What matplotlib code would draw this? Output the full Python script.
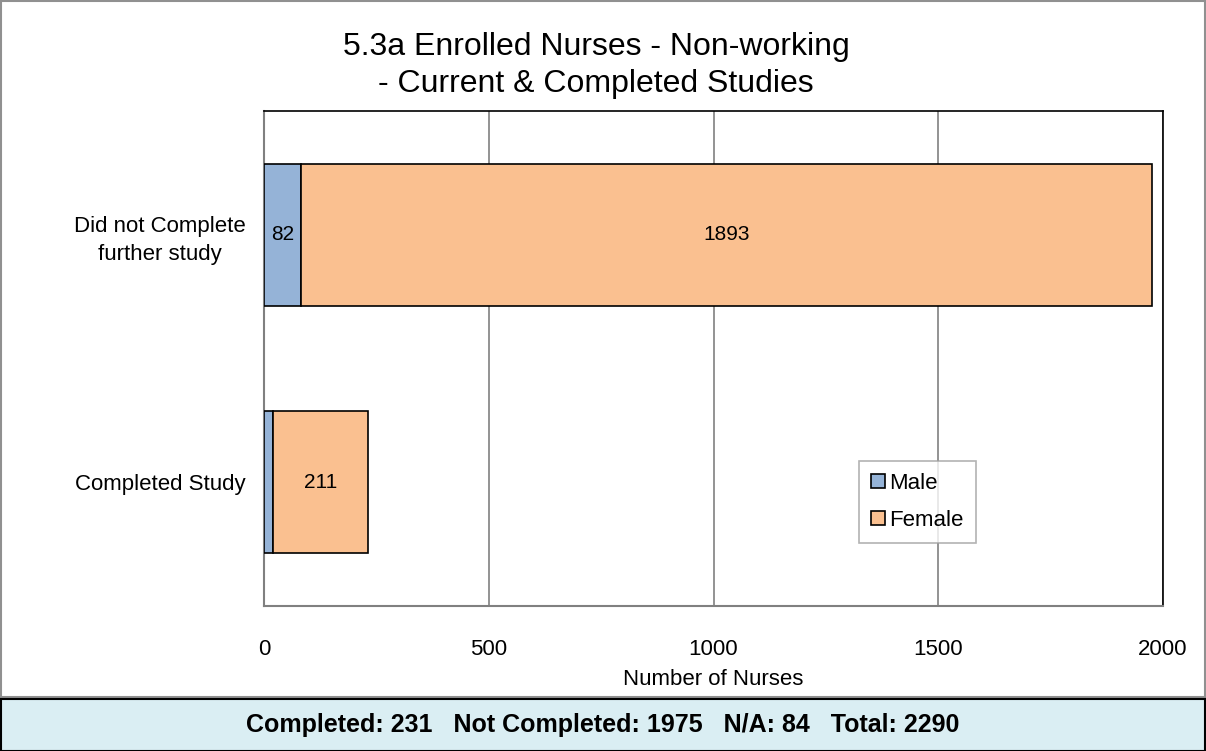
import matplotlib.pyplot as plt
from matplotlib.patches import Rectangle

plt.rcParams['font.family'] = ['Liberation Sans', 'DejaVu Sans']

# Data
categories = ['Completed Study', 'Did not Complete\nfurther study']
male = [20, 82]
female = [211, 1893]
male_labels = ['', '82']
female_labels = ['211', '1893']
summary = 'Completed: 231   Not Completed: 1975   N/A: 84   Total: 2290'

male_color = '#95B3D7'
female_color = '#FAC090'

fig = plt.figure(figsize=(12.06, 7.51), dpi=100)
ax = fig.add_axes([264 / 1206, 1 - 606 / 751, (1163 - 264) / 1206, (606 - 111) / 751])

y = range(len(categories))
h = 0.575
bm = ax.barh(y, male, height=h, color=male_color, edgecolor='black', linewidth=1.2, label='Male', zorder=3)
bf = ax.barh(y, female, left=male, height=h, color=female_color, edgecolor='black', linewidth=1.2,
             label='Female', zorder=3)
ax.bar_label(bm, labels=male_labels, label_type='center', fontsize=15)
ax.bar_label(bf, labels=female_labels, label_type='center', fontsize=15)

ax.set_xlim(0, 2000)
ax.set_ylim(-0.5, 1.5)
ax.set_xticks([0, 500, 1000, 1500, 2000])
ax.set_yticks(list(y))
ax.set_yticklabels(categories, fontsize=16, multialignment='center', linespacing=1.4)
ax.tick_params(axis='x', labelsize=16, length=0, pad=24)
ax.tick_params(axis='y', length=0, pad=13)
ax.xaxis.grid(True, color='#808080', linewidth=1.2, zorder=0)
ax.set_xlabel('Number of Nurses', fontsize=16, labelpad=6)

for side in ['top', 'right']:
    ax.spines[side].set_color('black')
    ax.spines[side].set_linewidth(1.2)
for side in ['left', 'bottom']:
    ax.spines[side].set_color('#808080')
    ax.spines[side].set_linewidth(1.5)

ax.set_title('5.3a Enrolled Nurses - Non-working\n- Current & Completed Studies', fontsize=23,
             pad=14, linespacing=1.3, x=(596 - 264) / (1163 - 264))

leg = ax.legend(loc='upper left', bbox_to_anchor=((859 - 264) / 899, 1 - (461 - 111) / 495),
                fontsize=16, frameon=True, fancybox=False, edgecolor='#A0A0A0',
                handlelength=0.6, handleheight=0.6, handletextpad=0.2, borderpad=0.55,
                labelspacing=0.7, borderaxespad=0)
leg.get_frame().set_linewidth(1.2)

# outer chart border and summary box
fig.patches.append(Rectangle((0.5 / 1206, 1 - 697 / 751), 1204 / 1206, 696 / 751,
                             transform=fig.transFigure, fill=False, edgecolor='#909090', linewidth=1.5))
fig.patches.append(Rectangle((0.5 / 1206, 0.5 / 751), 1204 / 1206, 52 / 751,
                             transform=fig.transFigure, facecolor='#DAEEF3', edgecolor='black', linewidth=1.5))
fig.text(0.5, 26 / 751, summary, ha='center', va='center', fontsize=18, fontweight='bold')

fig.savefig('out.png', dpi=100)
